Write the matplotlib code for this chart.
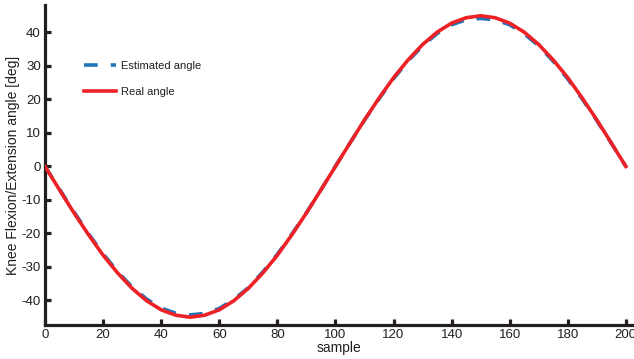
import matplotlib
matplotlib.use("Agg")
import matplotlib.pyplot as plt

plt.rcParams['font.family'] = ['Liberation Sans', 'DejaVu Sans']
plt.rcParams['axes.unicode_minus'] = False

# samples every 5 points (deg)
sample = list(range(0, 201, 5))
real_angle = [0, -7.0, -13.9, -20.4, -26.5, -31.8, -36.4, -40.1, -42.8, -44.4,
              -45.0, -44.4, -42.8, -40.1, -36.4, -31.8, -26.5, -20.4, -13.9, -7.0,
              0, 7.0, 13.9, 20.4, 26.5, 31.8, 36.4, 40.1, 42.8, 44.4,
              45.0, 44.4, 42.8, 40.1, 36.4, 31.8, 26.5, 20.4, 13.9, 7.0, 0]
estimated_angle = [0, -6.8, -13.6, -20.1, -26.1, -31.4, -36.0, -39.6, -42.3, -43.8,
                   -44.3, -43.9, -42.4, -39.7, -36.2, -31.5, -26.2, -20.2, -13.8, -7.0,
                   0.1, 7.0, 13.8, 20.2, 26.2, 31.5, 36.0, 39.7, 42.3, 43.8,
                   44.2, 43.8, 42.3, 39.6, 36.0, 31.4, 26.1, 20.1, 13.7, 6.9, 0]
xticks = list(range(0, 201, 20))
yticks = list(range(-40, 41, 10))

ink = "#231F20"

fig = plt.figure(figsize=(6.34, 3.59), dpi=100)
ax = fig.add_axes([0.071, 0.095, 0.929, 0.891])

ax.plot(sample, estimated_angle, color="#1F74BA", lw=2.6, dashes=(3.8, 3.6),
        solid_capstyle="butt", label="Estimated angle", zorder=2)
ax.plot(sample, real_angle, color="#EC2227", lw=2.6, label="Real angle", zorder=3)

ax.set_xlim(0, 202.8)
ax.set_ylim(-47.3, 48.2)
ax.set_xticks(xticks)
ax.set_yticks(yticks)

for side in ("top", "right"):
    ax.spines[side].set_visible(False)
for side in ("left", "bottom"):
    ax.spines[side].set_linewidth(2.3)
    ax.spines[side].set_color(ink)
ax.tick_params(direction="in", length=4, width=2.3, color=ink,
               labelsize=9.5, labelcolor=ink, pad=3)

ax.set_xlabel("sample", fontsize=10, color=ink, labelpad=0)
ax.set_ylabel("Knee Flexion/Extension angle [deg]", fontsize=10, color=ink, labelpad=1)

leg = ax.legend(loc="upper left", bbox_to_anchor=(0.058, 0.84), frameon=False,
                fontsize=8, handlelength=2.9, handletextpad=0.5, labelspacing=1.5,
                borderaxespad=0)
for t in leg.get_texts():
    t.set_color(ink)

fig.savefig("out.png", dpi=100)
